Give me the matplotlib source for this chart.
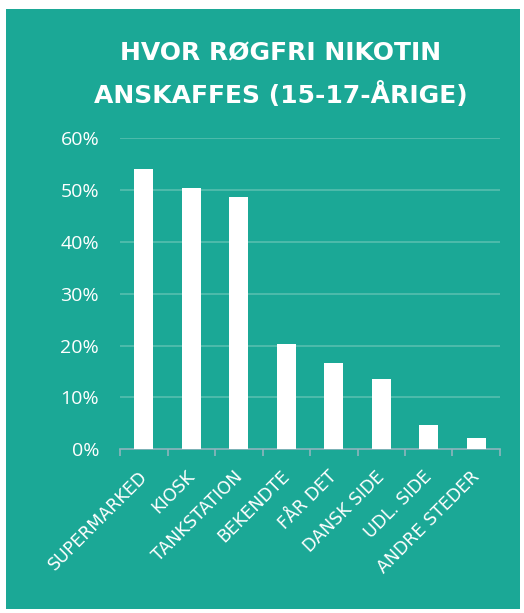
import numpy as np
import matplotlib
matplotlib.use("Agg")
import matplotlib.pyplot as plt
from matplotlib.patches import Rectangle

# data
categories = ["SUPERMARKED", "KIOSK", "TANKSTATION", "BEKENDTE", "FÅR DET",
              "DANSK SIDE", "UDL. SIDE", "ANDRE STEDER"]
shares = [54.1, 50.4, 48.6, 20.3, 16.6, 13.5, 4.7, 2.1]
y_ticks = [0, 10, 20, 30, 40, 50, 60]
title_lines = ["HVOR RØGFRI NIKOTIN", "ANSKAFFES (15-17-ÅRIGE)"]

teal = "#1ba896"
grid_col = "#52bcad"
axis_col = "#8fb5bd"

W, H = 524, 613
fig = plt.figure(figsize=(W / 100, H / 100), dpi=100, facecolor="white")

# teal panel behind everything
fig.patches.append(Rectangle((6 / W, 1 - 609 / H), 514 / W, 600 / H,
                             transform=fig.transFigure, facecolor=teal,
                             edgecolor="none", zorder=-5))

ax = fig.add_axes([120 / W, 1 - 449.3 / H, 380 / W, 311 / H])
ax.set_facecolor("none")
ax.set_zorder(2)

x = np.arange(len(categories))
ax.bar(x, shares, width=0.4, color="white", zorder=3)

ax.set_xlim(-0.5, len(categories) - 0.5)
ax.set_ylim(0, 60)
ax.set_yticks(y_ticks)
ax.set_yticklabels([f"{v}%" for v in y_ticks])
for v in y_ticks[1:]:
    ax.axhline(v, color=grid_col, lw=1.3, zorder=1)

for s in ["top", "right", "left"]:
    ax.spines[s].set_visible(False)
ax.spines["bottom"].set_color(axis_col)
ax.spines["bottom"].set_linewidth(1.2)

ax.tick_params(axis="y", length=0, pad=15, labelcolor="white", labelsize=14)
for lab in ax.get_yticklabels():
    lab.set_fontfamily("Open Sans")

# ticks at category boundaries
ax.set_xticks(np.arange(-0.5, len(categories), 1.0))
ax.set_xticklabels([])
ax.tick_params(axis="x", direction="out", length=5, width=1.2, color=axis_col)

for xi, name in zip(x, categories):
    ax.annotate(name, xy=(xi, 0), xycoords="data", xytext=(-4, -13),
                textcoords="offset points", rotation=45, ha="right", va="top",
                rotation_mode="anchor", color="white", fontsize=12.5,
                family="DejaVu Sans", annotation_clip=False)

fig.text(281 / W, 1 - 53 / H, title_lines[0], ha="center", va="center",
         color="white", fontsize=18, fontweight="bold", family="DejaVu Sans")
fig.text(281 / W, 1 - 95 / H, title_lines[1], ha="center", va="center",
         color="white", fontsize=18, fontweight="bold", family="DejaVu Sans")

fig.savefig("out.png", dpi=100, facecolor="white")
